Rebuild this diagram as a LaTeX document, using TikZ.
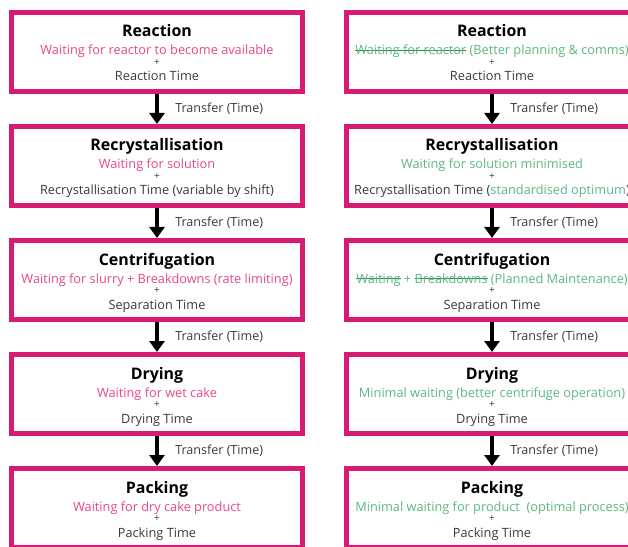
\documentclass[tikz,border=0pt]{standalone}
\usepackage{fontspec}
\setmainfont{Open Sans}
\usepackage{tikz}
\usetikzlibrary{arrows.meta,positioning,calc}
\definecolor{framepink}{HTML}{D81B72}
\definecolor{waitpink}{HTML}{E8478C}
\definecolor{fixgreen}{HTML}{5DB784}
\definecolor{strikegreen}{HTML}{2E8B57}
\definecolor{timegray}{HTML}{3A3A3A}
\newsavebox{\strikebox}
\newcommand{\gsout}[1]{\sbox{\strikebox}{#1}%
  \rlap{\textcolor{strikegreen}{\rule[0.55ex]{\wd\strikebox}{0.8pt}}}\usebox{\strikebox}}
\tikzset{stage/.style={draw=framepink, line width=5bp, fill=white,
    minimum width=291bp, minimum height=79bp, inner sep=0pt},
  titletext/.style={anchor=base, inner sep=0pt, font=\fontsize{16}{18}\selectfont\bfseries},
  waittext/.style={anchor=base, inner sep=0pt, font=\fontsize{12.8}{14}\selectfont},
  plustext/.style={inner sep=0pt, text=timegray, font=\fontsize{10}{11}\selectfont},
  timetext/.style={anchor=base, inner sep=0pt, text=timegray, font=\fontsize{12.8}{14}\selectfont},
  flow/.style={line width=4.5bp, -{Triangle[width=15bp,length=11bp]}},
  flowlabel/.style={right=16bp, inner sep=0pt, text=timegray, font=\fontsize{12.6}{14}\selectfont}}
% one stage: name, centre x, top y, title, waiting, time
\newcommand{\stepnode}[6]{%
  \node[stage] (#1) at (#2,#3+42) {};
  \node[titletext] (#1-title) at (#2,#3+27) {#4};
  \node[waittext] (#1-wait) at (#2,#3+45) {#5};
  \node[plustext] (#1-plus) at (#2,#3+53) {+};
  \node[timetext] (#1-time) at (#2,#3+71) {#6};}
\begin{document}
\begin{tikzpicture}[x=1bp, y=-1bp]
  \useasboundingbox (0,0) rectangle (628,547);
  \clip (0,0) rectangle (628,547);

  % current process
  \stepnode{L1}{157}{10}{Reaction}{\color{waitpink}Waiting for reactor to become available}{Reaction Time}
  \stepnode{L2}{157}{124}{Recrystallisation}{\color{waitpink}Waiting for solution}{Recrystallisation Time (variable by shift)}
  \stepnode{L3}{157}{238}{Centrifugation}{\color{waitpink}Waiting for slurry + Breakdowns (rate limiting)}{Separation Time}
  \stepnode{L4}{157}{352}{Drying}{\color{waitpink}Waiting for wet cake}{Drying Time}
  \stepnode{L5}{157}{466}{Packing}{\color{waitpink}Waiting for dry cake product}{Packing Time}

  % improved process
  \stepnode{R1}{492}{10}{Reaction}{\color{fixgreen}\gsout{Waiting for reactor} (Better planning \& comms)}{Reaction Time}
  \stepnode{R2}{492}{124}{Recrystallisation}{\color{fixgreen}Waiting for solution minimised}{Recrystallisation Time ({\color{fixgreen}standardised optimum})}
  \stepnode{R3}{492}{238}{Centrifugation}{\color{fixgreen}\gsout{Waiting} + \gsout{Breakdowns} (Planned Maintenance)}{Separation Time}
  \stepnode{R4}{492}{352}{Drying}{\color{fixgreen}Minimal waiting (better centrifuge operation)}{Drying Time}
  \stepnode{R5}{492}{466}{Packing}{\color{fixgreen}Minimal waiting for product\ \ (optimal process)}{Packing Time}

  \foreach \c in {L,R}{
    \foreach \i [count=\j from 2] in {1,...,4}{
      \draw[flow] (\c\i.south) -- (\c\j.north) node[midway, flowlabel] (\c\i-tr) {Transfer (Time)};
    }
  }
\end{tikzpicture}
\end{document}
